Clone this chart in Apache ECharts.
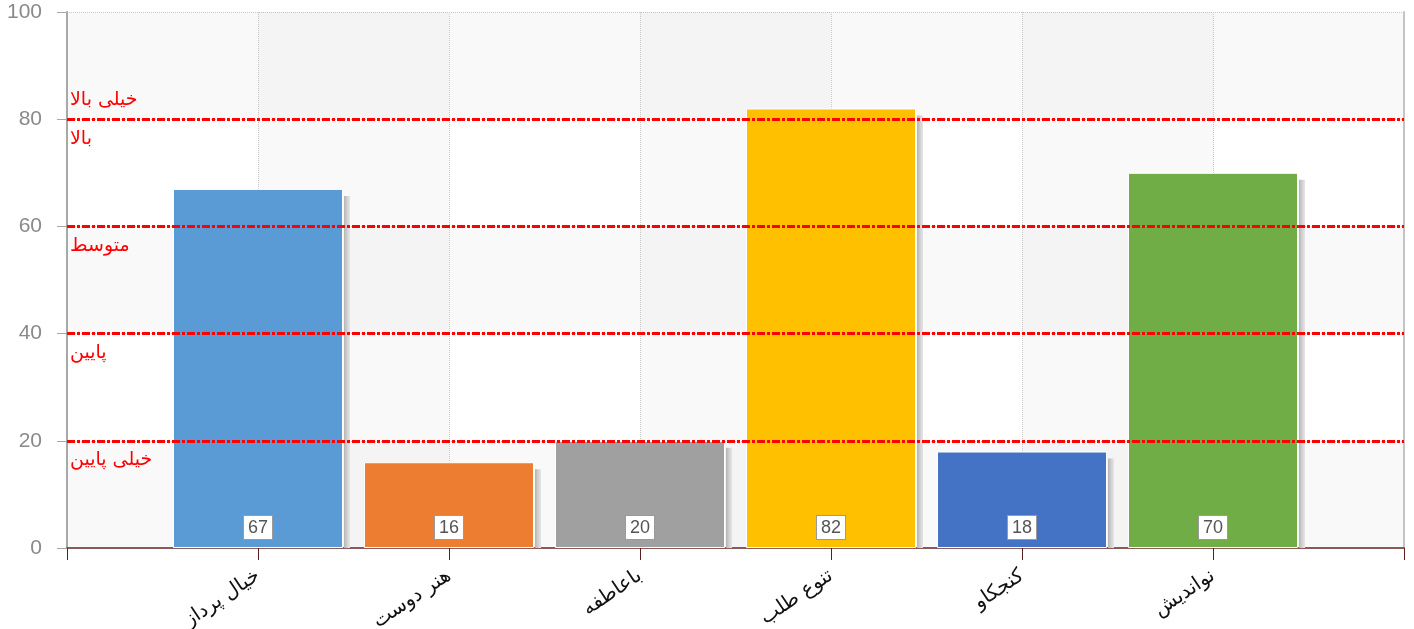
<!DOCTYPE html>
<html>
<head>
<meta charset="utf-8">
<script src="https://cdn.jsdelivr.net/npm/echarts@6/dist/echarts.min.js"></script>
<style>
  html, body { margin: 0; padding: 0; background: #fff; }
  #chart { width: 1414px; height: 629px; }
</style>
</head>
<body>
<div id="chart"></div>
<script>
// دسته‌ها و مقادیر
var categories = ['خیال پرداز', 'هنر دوست', 'باعاطفه', 'تنوع طلب', 'کنجکاو', 'نواندیش'];
var values = [67, 16, 20, 82, 18, 70];
var barColors = ['#5B9BD5', '#ED7D31', '#A0A0A0', '#FFC000', '#4472C4', '#70AD47'];

// خطوط سطح
var levelValues = [80, 80, 60, 40, 20];
var levelLabels = ['خیلی بالا', 'بالا', 'متوسط', 'پایین', 'خیلی پایین'];
var levelLabelPos = ['insideStartTop', 'insideStartBottom', 'insideStartBottom', 'insideStartBottom', 'insideStartBottom'];

var yTicks = [0, 20, 40, 60, 80, 100];

var FONT = 'DejaVu Sans';

// محور دسته با یک خانه خالی در دو سر
var axisCats = [''].concat(categories, ['']);

var barData = ['-'];
var shadowData = [];
for (var i = 0; i < values.length; i++) {
    barData.push({
        value: values[i],
        itemStyle: { color: barColors[i] }
    });
    shadowData.push([i + 1, values[i]]);
}
barData.push('-');

var markData = [];
for (var j = 0; j < levelValues.length; j++) {
    markData.push({
        yAxis: levelValues[j],
        label: {
            formatter: levelLabels[j],
            position: levelLabelPos[j]
        }
    });
}

var myChart = echarts.init(document.getElementById('chart'));

var option = {
    animation: false,
    textStyle: { fontFamily: FONT },
    grid: {
        left: 67,
        right: 10,
        top: 12,
        bottom: 81,
        containLabel: false,
        outerBoundsMode: 'none'
    },
    xAxis: [{
        type: 'category',
        boundaryGap: false,
        data: axisCats,
        axisLine: {
            lineStyle: { color: '#8a5a5a', width: 2 }
        },
        axisTick: {
            alignWithLabel: true,
            length: 12,
            lineStyle: { color: '#5a1e1e', width: 1 }
        },
        axisLabel: {
            rotate: 34,
            margin: 26,
            color: '#111',
            fontSize: 20,
            fontFamily: FONT
        },
        splitLine: {
            show: true,
            lineStyle: { color: '#c8c8c8', type: 'dotted', width: 1 }
        },
        splitArea: {
            show: true,
            areaStyle: { color: ['rgba(0,0,0,0)', 'rgba(0,0,0,0.022)'] }
        }
    }],
    yAxis: [{
        type: 'value',
        min: 0,
        max: 100,
        interval: 20,
        axisLine: {
            show: true,
            lineStyle: { color: '#a8a8a8', width: 2 }
        },
        axisTick: {
            show: true,
            length: 10,
            lineStyle: { color: '#a8a8a8', width: 1 }
        },
        axisLabel: {
            color: '#8a8a8a',
            fontSize: 21,
            margin: 25,
            fontFamily: 'Liberation Sans'
        },
        splitLine: {
            show: true,
            lineStyle: { color: '#c8c8c8', type: 'dotted', width: 1 }
        },
        splitArea: {
            show: true,
            areaStyle: { color: ['rgba(0,0,0,0.022)', 'rgba(0,0,0,0)'] }
        }
    }, {
        type: 'value',
        position: 'right',
        min: 0,
        max: 100,
        interval: 20,
        axisLine: {
            show: true,
            lineStyle: { color: '#c4c4c4', width: 2 }
        },
        axisTick: { show: false },
        axisLabel: { show: false },
        splitLine: { show: false }
    }],
    series: [
        {
            // سایه ستون‌ها
            type: 'custom',
            silent: true,
            z: 1,
            data: shadowData,
            renderItem: function (params, api) {
                var top = api.coord([api.value(0), api.value(1)]);
                var base = api.coord([api.value(0), 0]);
                var y = top[1] + 7;
                return {
                    type: 'rect',
                    shape: {
                        x: top[0] + 86,
                        y: y,
                        width: 6,
                        height: base[1] - y
                    },
                    style: {
                        fill: new echarts.graphic.LinearGradient(0, 0, 1, 0, [
                            { offset: 0, color: '#b4b4b4' },
                            { offset: 0.5, color: '#d0d0d0' },
                            { offset: 1, color: '#e6e6e6' }
                        ])
                    }
                };
            }
        },
        {
            name: 'score',
            type: 'bar',
            barWidth: 170,
            z: 2,
            itemStyle: {
                borderColor: '#ffffff',
                borderWidth: 1
            },
            label: {
                show: true,
                position: 'insideBottom',
                distance: 9,
                color: '#555',
                fontSize: 18,
                fontFamily: 'Liberation Sans',
                backgroundColor: '#ffffff',
                borderColor: '#9a9a9a',
                borderWidth: 1,
                padding: [3, 4, 2, 4]
            },
            data: barData,
            markLine: {
                silent: true,
                symbol: ['none', 'none'],
                z: 5,
                lineStyle: {
                    color: '#ff0000',
                    width: 3,
                    type: [8, 2, 3, 2]
                },
                label: {
                    color: '#ff0000',
                    fontSize: 19,
                    fontFamily: FONT,
                    distance: [3, 10]
                },
                data: markData
            }
        }
    ]
};

myChart.setOption(option);
window.onresize = myChart.resize;
</script>
</body>
</html>
